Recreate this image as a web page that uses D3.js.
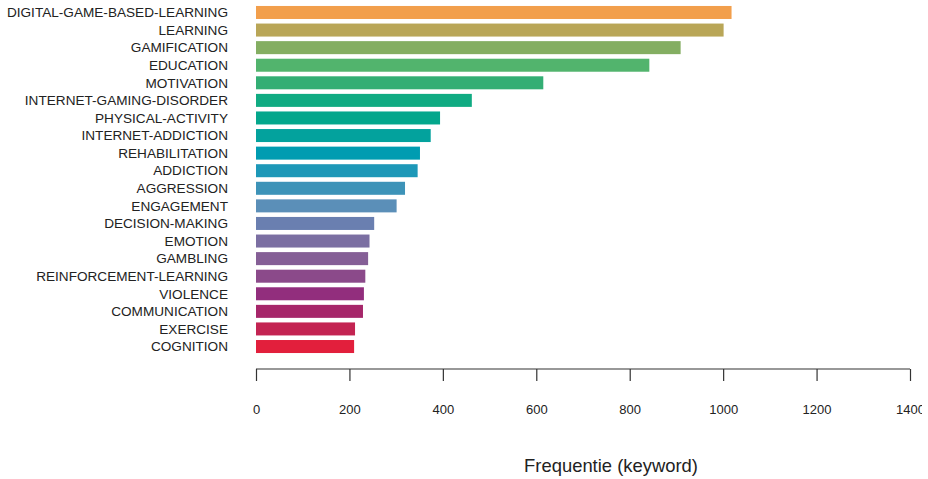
<!DOCTYPE html>
<html>
<head>
<meta charset="utf-8">
<script src="https://cdn.jsdelivr.net/npm/d3@7"></script>
<style>
    body { margin: 0; background: #fff; }
    svg { display: block; font-family: "Liberation Sans", Arial, sans-serif; }
    .axis path, .axis line { stroke: #333; stroke-width: 1.2; }
    .axis text { fill: #222; font-size: 13px; }
    .label { fill: #222; font-size: 13.6px; }
</style>
</head>
<body>
<svg id="chart" width="928" height="479"></svg>
<script>
'use strict';

// keywords, top to bottom
const keywords = [
    'DIGITAL-GAME-BASED-LEARNING', 'LEARNING', 'GAMIFICATION', 'EDUCATION', 'MOTIVATION',
    'INTERNET-GAMING-DISORDER', 'PHYSICAL-ACTIVITY', 'INTERNET-ADDICTION', 'REHABILITATION', 'ADDICTION',
    'AGGRESSION', 'ENGAGEMENT', 'DECISION-MAKING', 'EMOTION', 'GAMBLING',
    'REINFORCEMENT-LEARNING', 'VIOLENCE', 'COMMUNICATION', 'EXERCISE', 'COGNITION'
];

const counts = [
    1018, 1001, 909, 842, 615,
    462, 394, 374, 351, 346,
    319, 301, 253, 243, 240,
    234, 231, 229, 212, 210
];

const barColors = [
    '#F29F4C', '#B9A657', '#84AE62', '#52B46D', '#33AE74',
    '#10AB82', '#04A78C', '#03A29D', '#009CB1', '#1D98B8',
    '#3D93B8', '#5B8FB8', '#6A7FB0', '#7B6FA2', '#855F96',
    '#8B4A8A', '#922E7D', '#A6266A', '#C32452', '#E21F3C'
];

const xTicks = [0, 200, 400, 600, 800, 1000, 1200, 1400];

const svg = d3.select('#chart');

const left = 256, right = 910;
const axisY = 369;

const x = d3.scaleLinear().domain([0, 1400]).range([left, right]);
const y = d3.scaleBand().domain(keywords).range([1.4, 357.6]).padding(0.26);

// the last tick label is cut off in the original
svg.append('defs').append('clipPath')
    .attr('id', 'axisClip')
    .append('rect')
    .attr('x', 0).attr('y', 0)
    .attr('width', 922).attr('height', 479);

// bars
svg.append('g')
    .selectAll('rect')
    .data(keywords)
    .enter().append('rect')
    .attr('x', x(0))
    .attr('y', d => y(d))
    .attr('width', (d, i) => x(counts[i]) - x(0))
    .attr('height', y.bandwidth())
    .attr('fill', (d, i) => barColors[i]);

// keyword labels
svg.append('g')
    .selectAll('text')
    .data(keywords)
    .enter().append('text')
    .attr('class', 'label')
    .attr('x', 228)
    .attr('y', d => y(d) + y.bandwidth() / 2)
    .attr('dy', '0.35em')
    .attr('text-anchor', 'end')
    .text(d => d);

// x axis, R style: line between end ticks, labels well below
const xAxis = d3.axisBottom(x)
    .tickValues(xTicks)
    .tickSize(12)
    .tickSizeOuter(0)
    .tickPadding(24)
    .tickFormat(d3.format('d'));

svg.append('g')
    .attr('clip-path', 'url(#axisClip)')
    .append('g')
    .attr('class', 'axis')
    .attr('transform', 'translate(0,' + axisY + ')')
    .call(xAxis)
    .call(g => g.select('.domain').attr('d', 'M' + left + ',0H' + right));

svg.append('text')
    .attr('x', 611)
    .attr('y', 472)
    .attr('text-anchor', 'middle')
    .attr('fill', '#222')
    .style('font-size', '18.4px')
    .text('Frequentie (keyword)');
</script>
</body>
</html>
